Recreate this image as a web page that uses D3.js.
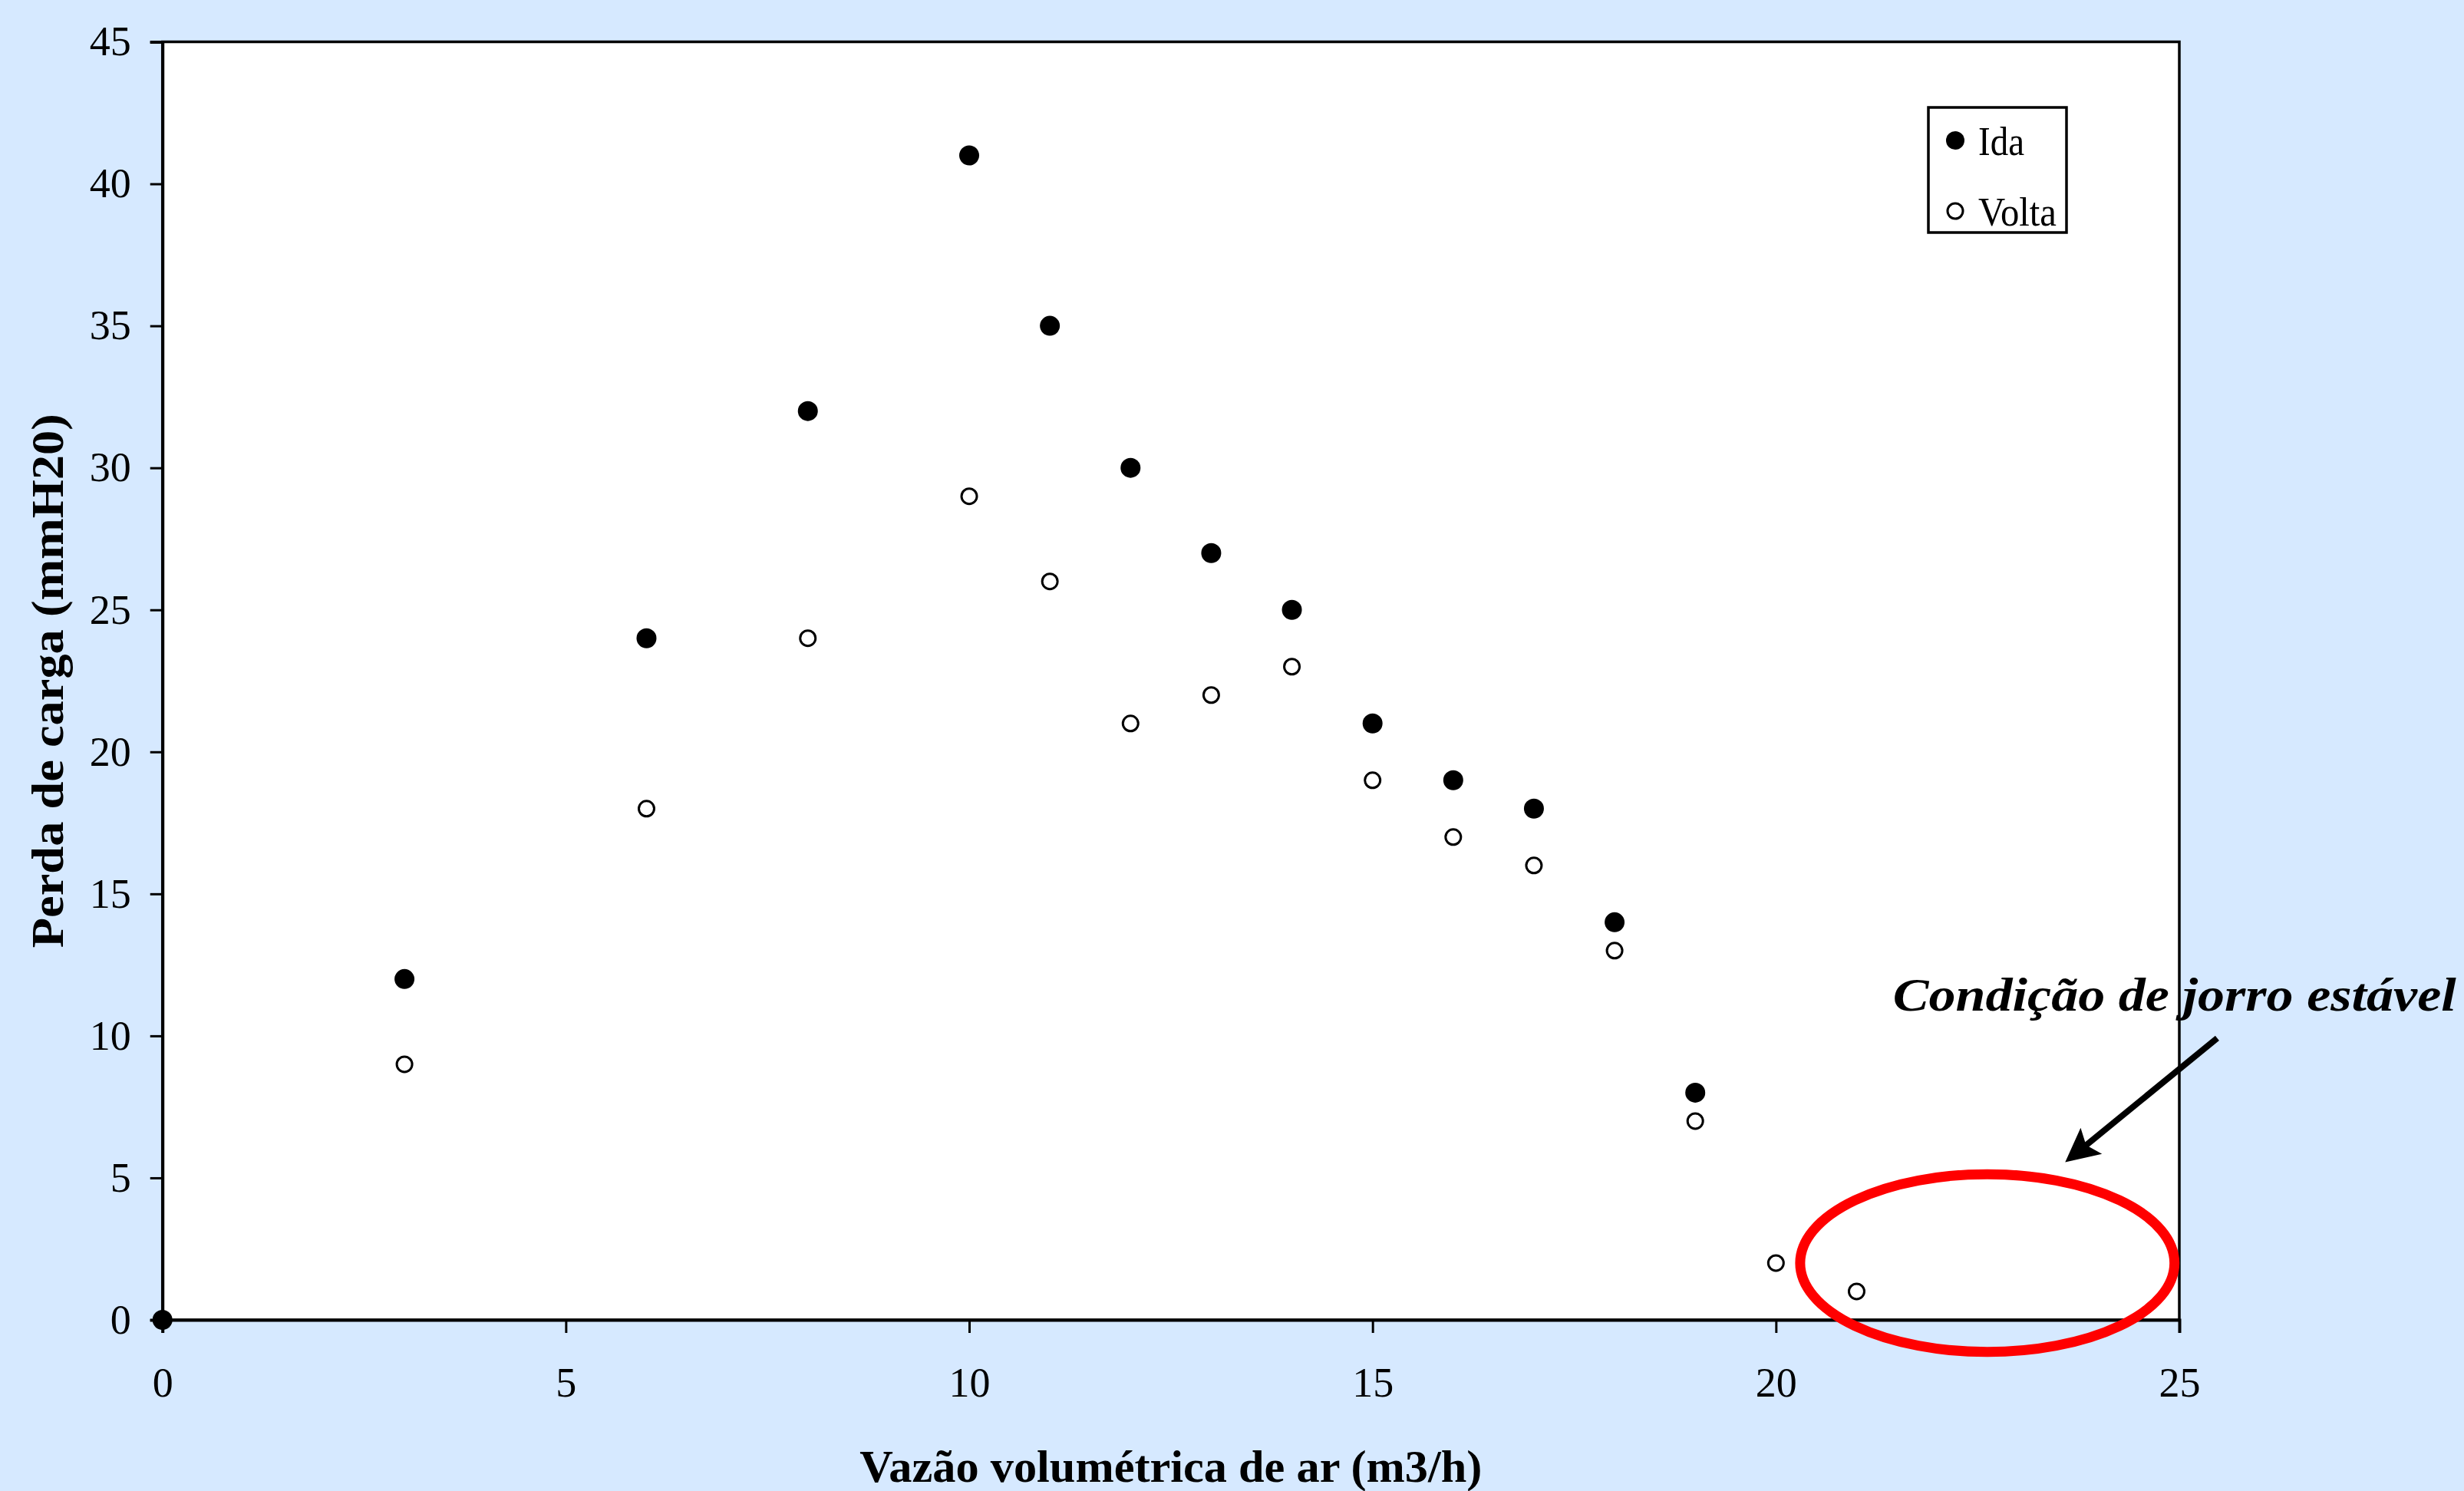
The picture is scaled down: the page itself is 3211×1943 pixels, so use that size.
<!DOCTYPE html>
<html>
<head>
<meta charset="utf-8">
<script src="https://cdn.jsdelivr.net/npm/d3@7"></script>
<style>
  html, body { margin: 0; padding: 0; background: #d6e9ff; }
  svg { display: block; }
</style>
</head>
<body>
<svg id="chart"></svg>
<script>
// data
const idaX = [0, 3, 6, 8, 10, 11, 12, 13, 14, 15, 16, 17, 18, 19];
const idaY = [0, 12, 24, 32, 41, 35, 30, 27, 25, 21, 19, 18, 14, 8];
const voltaX = [3, 6, 8, 10, 11, 12, 13, 14, 15, 16, 17, 18, 19, 20, 21];
const voltaY = [9, 18, 24, 29, 26, 21, 22, 23, 19, 17, 16, 13, 7, 2, 1];
const xTicks = [0, 5, 10, 15, 20, 25];
const yTicks = [0, 5, 10, 15, 20, 25, 30, 35, 40, 45];
const seriesNames = ["Ida", "Volta"];

// annotation (in data units)
const zoneCenter = [22.62, 2.0];
const zoneRadius = [2.32, 3.13];
const arrowFrom = [25.47, 9.92];
const arrowTo = [23.65, 5.7];
const noteText = "Condição de jorro estável";
const notePos = [21.45, 10.89];

const W = 3211, H = 1943;
const plotL = 211.7, plotR = 2840, plotT = 54.5, plotB = 1720;
const serif = "'Liberation Serif', 'Times New Roman', serif";

const svg = d3.select("#chart").attr("width", W).attr("height", H);

svg.append("defs").append("marker")
   .attr("id", "head")
   .attr("viewBox", "0 0 10 10")
   .attr("refX", 8).attr("refY", 5)
   .attr("markerWidth", 6.5).attr("markerHeight", 5.5)
   .attr("markerUnits", "strokeWidth")
   .attr("orient", "auto")
   .append("path").attr("d", "M0,0 L10,5 L0,10 L2,5 Z").attr("fill", "#000");

svg.append("rect").attr("width", W).attr("height", H).attr("fill", "#d6e9ff");

const x = d3.scaleLinear().domain([0, 25]).range([plotL, plotR]);
const y = d3.scaleLinear().domain([0, 45]).range([plotB, plotT]);

// plot area
svg.append("rect")
   .attr("x", plotL).attr("y", plotT)
   .attr("width", plotR - plotL).attr("height", plotB - plotT)
   .attr("fill", "#fff")
   .attr("stroke", "#000")
   .attr("stroke-width", 3.5);

// axes
const xAxis = svg.append("g")
   .attr("transform", `translate(0,${plotB})`)
   .call(d3.axisBottom(x).tickValues(xTicks).tickSize(17).tickPadding(45).tickFormat(d3.format("d")));
const yAxis = svg.append("g")
   .attr("transform", `translate(${plotL},0)`)
   .call(d3.axisLeft(y).tickValues(yTicks).tickSize(16).tickPadding(25).tickFormat(d3.format("d")));

[xAxis, yAxis].forEach(g => {
	g.select(".domain").attr("stroke", "#000").attr("stroke-width", 4);
	g.selectAll(".tick line").attr("stroke", "#000").attr("stroke-width", 3);
	g.selectAll(".tick text")
	 .attr("fill", "#000")
	 .style("font-family", serif)
	 .style("font-size", "54px");
});

// axis titles
svg.append("text")
   .attr("x", (plotL + plotR) / 2).attr("y", 1931)
   .attr("text-anchor", "middle")
   .attr("textLength", 811).attr("lengthAdjust", "spacingAndGlyphs")
   .style("font-family", serif)
   .style("font-weight", "bold").style("font-size", "60px")
   .text("Vazão volumétrica de ar (m3/h)");

svg.append("text")
   .attr("transform", `translate(82,${(plotT + plotB) / 2}) rotate(-90)`)
   .attr("text-anchor", "middle")
   .attr("textLength", 696).attr("lengthAdjust", "spacingAndGlyphs")
   .style("font-family", serif)
   .style("font-weight", "bold").style("font-size", "60px")
   .text("Perda de carga (mmH20)");

// points
const volta = voltaX.map((v, i) => ({ x: v, y: voltaY[i] }));
const ida = idaX.map((v, i) => ({ x: v, y: idaY[i] }));

svg.append("g").selectAll("circle")
   .data(volta).enter().append("circle")
   .attr("cx", d => x(d.x)).attr("cy", d => y(d.y))
   .attr("r", 10)
   .attr("fill", "#fff").attr("stroke", "#000").attr("stroke-width", 3);

svg.append("g").selectAll("circle")
   .data(ida).enter().append("circle")
   .attr("cx", d => x(d.x)).attr("cy", d => y(d.y))
   .attr("r", 13)
   .attr("fill", "#000");

// stable spouting zone
svg.append("ellipse")
   .attr("cx", x(zoneCenter[0])).attr("cy", y(zoneCenter[1]))
   .attr("rx", x(zoneCenter[0] + zoneRadius[0]) - x(zoneCenter[0]))
   .attr("ry", y(zoneCenter[1]) - y(zoneCenter[1] + zoneRadius[1]))
   .attr("fill", "none").attr("stroke", "#ff0000").attr("stroke-width", 13);

svg.append("line")
   .attr("x1", x(arrowFrom[0])).attr("y1", y(arrowFrom[1]))
   .attr("x2", x(arrowTo[0])).attr("y2", y(arrowTo[1]))
   .attr("stroke", "#000").attr("stroke-width", 8)
   .attr("marker-end", "url(#head)");

svg.append("text")
   .attr("x", x(notePos[0])).attr("y", y(notePos[1]))
   .attr("textLength", 734).attr("lengthAdjust", "spacingAndGlyphs")
   .style("font-family", serif)
   .style("font-weight", "bold").style("font-style", "italic").style("font-size", "62px")
   .text(noteText);

// legend
const legend = svg.append("g").attr("transform", "translate(2513,140)");
legend.append("rect")
   .attr("width", 180).attr("height", 163)
   .attr("fill", "#fff").attr("stroke", "#000").attr("stroke-width", 3.5);

const items = legend.selectAll(".item")
   .data(seriesNames).enter().append("g")
   .attr("class", "item")
   .attr("transform", (d, i) => `translate(35,${43 + i * 92})`);

items.append("circle")
   .attr("r", (d, i) => i === 0 ? 12 : 10)
   .attr("fill", (d, i) => i === 0 ? "#000" : "#fff")
   .attr("stroke", "#000")
   .attr("stroke-width", (d, i) => i === 0 ? 0 : 3);

items.append("text")
   .attr("x", 30).attr("y", 19)
   .attr("textLength", (d, i) => i === 0 ? 60 : 102)
   .attr("lengthAdjust", "spacingAndGlyphs")
   .style("font-family", serif)
   .style("font-size", "53px")
   .text(d => d);
</script>
</body>
</html>
